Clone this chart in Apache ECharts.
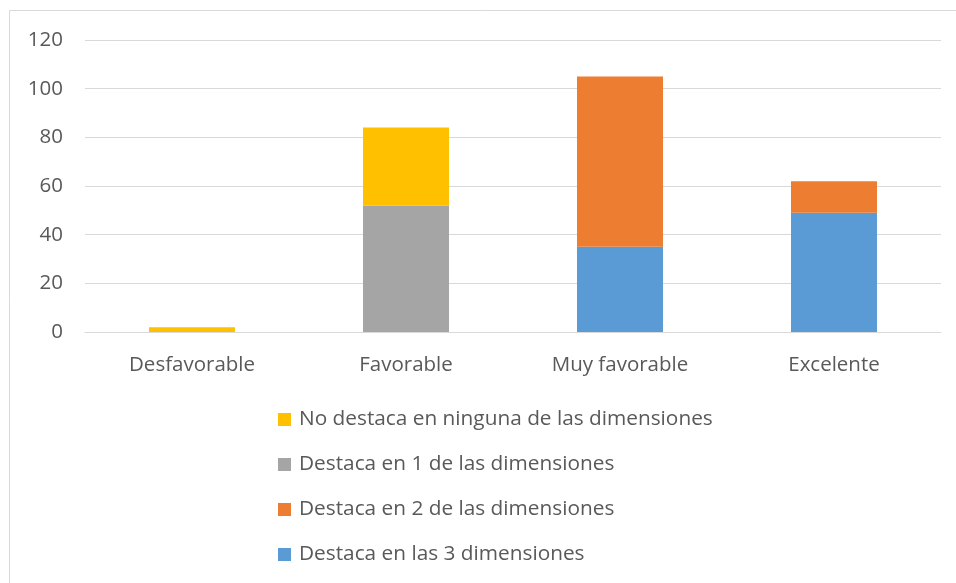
<!DOCTYPE html>
<html>
<head>
<meta charset="utf-8">
<script src="https://cdn.jsdelivr.net/npm/echarts@6/dist/echarts.min.js"></script>
<style>
html,body{margin:0;padding:0;background:#fff;}
#chart{width:956px;height:583px;}
</style>
</head>
<body>
<div id="chart"></div>
<script>
var categories = ['Desfavorable', 'Favorable', 'Muy favorable', 'Excelente'];
var seriesNames = [
  'No destaca en ninguna de las dimensiones',
  'Destaca en 1 de las dimensiones',
  'Destaca en 2 de las dimensiones',
  'Destaca en las 3 dimensiones'
];
var ninguna = [2, 32, null, null];
var una = [null, 52, null, null];
var dos = [null, null, 70, 13];
var tres = [null, null, 35, 49];
var yTicks = [0, 20, 40, 60, 80, 100, 120];

var colors = {
  ninguna: '#FFC000',
  una: '#A5A5A5',
  dos: '#ED7D31',
  tres: '#5B9BD5'
};
var FONT = 'Open Sans';
var textColor = '#595959';

var chart = echarts.init(document.getElementById('chart'), null, {renderer: 'canvas'});

function bar(name, data, color) {
  return {
    name: name,
    type: 'bar',
    stack: 'total',
    barWidth: 86,
    data: data,
    itemStyle: {color: color},
    emphasis: {disabled: true}
  };
}

chart.setOption({
  animation: false,
  backgroundColor: '#fff',
  graphic: [{
    type: 'rect',
    shape: {x: 9.5, y: 10.5, width: 1000, height: 1000},
    style: {fill: 'none', stroke: '#d9d9d9', lineWidth: 1},
    silent: true,
    z: -1
  }],
  grid: {left: 85, right: 15, top: 40, height: 292, containLabel: false},
  legend: {
    orient: 'vertical',
    left: 278,
    top: 409,
    padding: 0,
    itemWidth: 13,
    itemHeight: 13,
    itemGap: 24,
    icon: 'rect',
    data: [seriesNames[0], seriesNames[1], seriesNames[2], seriesNames[3]],
    textStyle: {fontFamily: FONT, fontSize: 20.8, color: textColor, lineHeight: 21, padding: [0, 0, 0, 3]},
    selectedMode: false
  },
  xAxis: {
    type: 'category',
    data: categories,
    axisLine: {lineStyle: {color: '#d9d9d9'}},
    axisTick: {show: false},
    axisLabel: {fontFamily: FONT, fontSize: 20.5, color: textColor, margin: 23}
  },
  yAxis: {
    type: 'value',
    min: yTicks[0],
    max: yTicks[yTicks.length - 1],
    interval: yTicks[1] - yTicks[0],
    axisLine: {show: false},
    axisTick: {show: false},
    splitLine: {lineStyle: {color: '#d9d9d9'}},
    axisLabel: {fontFamily: FONT, fontSize: 20.5, color: textColor, margin: 22}
  },
  series: [
    bar(seriesNames[3], tres, colors.tres),
    bar(seriesNames[2], dos, colors.dos),
    bar(seriesNames[1], una, colors.una),
    bar(seriesNames[0], ninguna, colors.ninguna)
  ]
});
</script>
</body>
</html>
